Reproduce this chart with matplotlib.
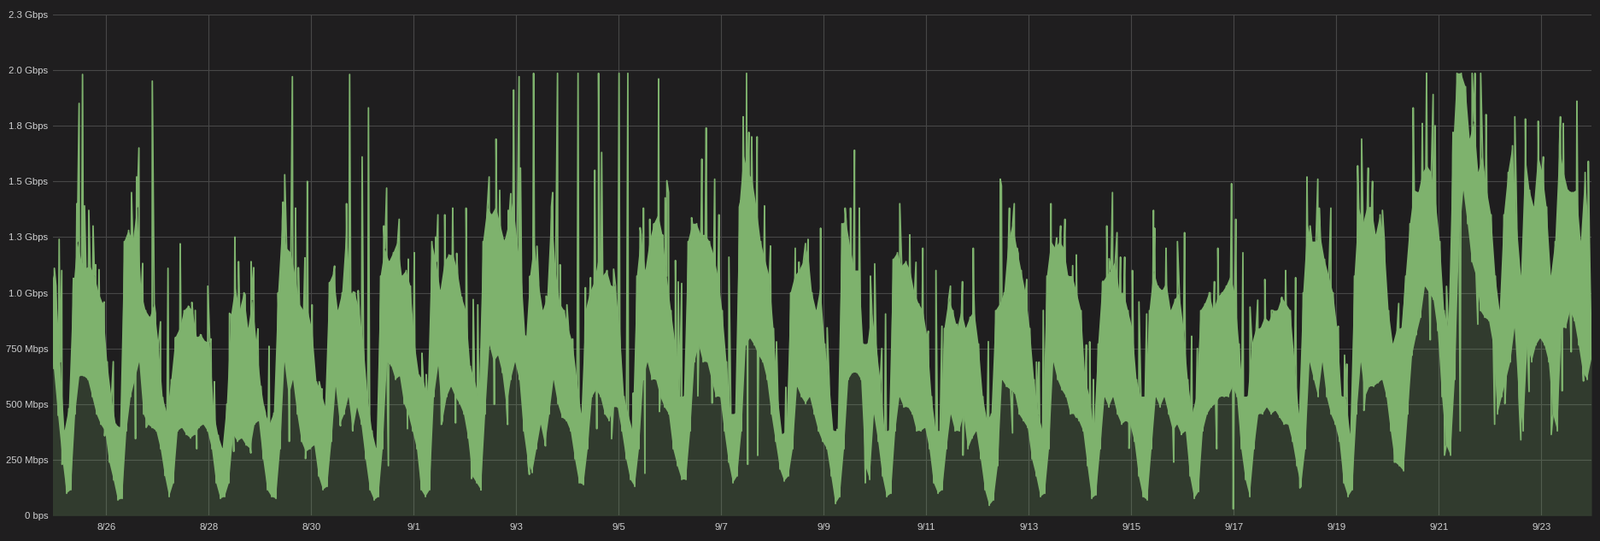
import numpy as np
import matplotlib.pyplot as plt

# ---- data ----
# time in days from 8/25 00:00; top / bottom of the traffic band in Mbps
# per 2-hour bin. First bin starts 8/24 22:00, then 12 bins per day.
bin_hours = 2
first_bin = -2 / 24

hi = [1100,
      1030, 690, 380, 480, 1000, 1230, 1140, 1110, 1120, 1080, 1000, 950,     # 8/25
      690, 530, 410, 395, 1230, 1280, 1230, 1385, 1000, 920, 890, 950,        # 8/26
      770, 530, 460, 610, 800, 840, 920, 940, 920, 800, 810, 780,             # 8/27
      780, 460, 360, 300, 500, 900, 1030, 920, 1000, 840, 970, 770,           # 8/28
      580, 460, 410, 460, 1000, 1320, 1200, 1180, 1080, 950, 920, 920,        # 8/29
      830, 600, 565, 490, 1045, 1090, 920, 1000, 1290, 1000, 1000, 920,       # 8/30
      770, 530, 380, 300, 1075, 1200, 1140, 1180, 1230, 1075, 1100, 1030,     # 8/31
      770, 630, 610, 530, 1230, 1140, 1010, 1140, 1170, 1170, 1100, 980,      # 9/1
      920, 670, 610, 530, 1230, 1385, 1350, 1385, 1310, 1230, 1310, 1415,     # 9/2
      1230, 1075, 770, 1075, 1230, 1045, 920, 980, 1385, 1100, 950, 920,      # 9/3
      840, 770, 610, 456, 920, 1000, 1045, 1150, 1075, 1100, 1030, 1030,      # 9/4
      840, 534, 456, 380, 1075, 1260, 1100, 1230, 1310, 1350, 1260, 1075,     # 9/5
      920, 770, 534, 534, 1230, 1310, 1310, 1260, 1260, 1230, 1170, 1075,     # 9/6
      920, 690, 456, 456, 1385, 1620, 1540, 1510, 1385, 1230, 1150, 1075,     # 9/7
      840, 534, 364, 380, 1000, 1075, 1100, 1140, 1200, 1000, 920, 1030,      # 9/8
      770, 610, 380, 380, 1310, 1320, 1200, 1100, 1100, 770, 770, 920,        # 9/9
      770, 610, 380, 380, 1150, 1180, 1120, 1140, 1100, 1000, 950, 920,       # 9/10
      800, 534, 380, 380, 840, 970, 920, 840, 920, 840, 890, 920,             # 9/11
      770, 534, 426, 456, 920, 950, 1000, 1230, 1310, 1200, 1100, 1000,       # 9/12
      840, 610, 456, 380, 1075, 1230, 1200, 1230, 1200, 1075, 1075, 1000,     # 9/13
      920, 610, 534, 380, 770, 1045, 1075, 1100, 1140, 1000, 1000, 920,       # 9/14
      840, 610, 534, 534, 920, 1100, 1030, 1010, 1045, 920, 970, 1000,        # 9/15
      840, 610, 456, 534, 920, 950, 1000, 920, 980, 1000, 1030, 1075,         # 9/16
      1000, 770, 534, 534, 770, 840, 840, 890, 870, 920, 920, 980,            # 9/17
      950, 920, 690, 456, 1000, 1310, 1230, 1230, 1260, 1150, 1075, 1000,     # 9/18
      840, 534, 534, 364, 1075, 1385, 1310, 1385, 1385, 1260, 1350, 1230,     # 9/19
      920, 770, 840, 840, 1075, 1310, 1460, 1450, 1540, 1570, 1540, 1415,     # 9/20
      1230, 920, 840, 1620, 1985, 1985, 1925, 1690, 1770, 1540, 1620, 1460,   # 9/21
      1350, 1075, 920, 1350, 1540, 1660, 1310, 1075, 1620, 1460, 1385, 1620,  # 9/22
      1540, 1385, 1075, 1230, 1660, 1540, 1460, 1450, 1460, 1230, 1540, 1230]  # 9/23

lo = [660,
      450, 255, 100, 116, 456, 627, 627, 611, 534, 456, 410, 380,     # 8/25
      240, 160, 70, 77, 380, 534, 611, 690, 456, 410, 395, 380,       # 8/26
      300, 180, 85, 147, 380, 395, 364, 348, 364, 395, 410, 380,      # 8/27
      300, 147, 77, 85, 147, 364, 333, 348, 317, 300, 410, 426,       # 8/28
      255, 116, 85, 77, 300, 690, 534, 611, 456, 333, 286, 300,       # 8/29
      317, 178, 116, 131, 333, 580, 410, 456, 534, 380, 487, 410,     # 8/30
      255, 116, 70, 85, 300, 690, 673, 611, 627, 503, 456, 380,       # 8/31
      300, 116, 85, 116, 534, 673, 426, 534, 580, 534, 503, 456,      # 9/1
      348, 178, 147, 116, 456, 766, 690, 720, 642, 487, 611, 690,     # 9/2
      611, 380, 240, 193, 300, 410, 317, 456, 611, 503, 441, 426,     # 9/3
      380, 255, 147, 139, 300, 534, 565, 534, 456, 426, 487, 487,     # 9/4
      380, 255, 162, 131, 300, 611, 690, 611, 611, 534, 487, 456,     # 9/5
      300, 224, 162, 162, 380, 690, 766, 690, 690, 611, 534, 534,     # 9/6
      380, 240, 147, 178, 380, 766, 797, 766, 720, 690, 611, 456,     # 9/7
      333, 209, 155, 178, 300, 580, 534, 503, 534, 456, 380, 333,     # 9/8
      300, 178, 54, 85, 300, 611, 642, 642, 611, 224, 162, 456,       # 9/9
      333, 178, 85, 100, 380, 534, 487, 487, 456, 380, 380, 395,      # 9/10
      300, 147, 100, 116, 300, 456, 380, 380, 456, 300, 348, 380,     # 9/11
      255, 116, 46, 70, 224, 611, 580, 565, 549, 456, 426, 395,       # 9/12
      255, 178, 85, 100, 300, 690, 611, 565, 534, 456, 456, 426,      # 9/13
      380, 224, 77, 93, 300, 534, 487, 534, 456, 410, 426, 410,       # 9/14
      333, 178, 85, 70, 300, 534, 487, 534, 456, 380, 410, 364,       # 9/15
      380, 178, 77, 108, 380, 456, 487, 503, 534, 534, 534, 580,      # 9/16
      534, 300, 162, 85, 300, 456, 456, 487, 456, 472, 441, 410,      # 9/17
      410, 333, 224, 131, 300, 690, 611, 534, 690, 534, 456, 410,     # 9/18
      333, 147, 85, 116, 456, 690, 534, 580, 580, 596, 611, 534,      # 9/19
      380, 240, 224, 201, 456, 720, 812, 890, 1030, 1000, 970, 830,   # 9/20
      534, 317, 271, 611, 1230, 1460, 1310, 1140, 1075, 920, 890, 875,  # 9/21
      766, 456, 534, 611, 690, 843, 534, 380, 766, 690, 766, 797,     # 9/22
      766, 690, 456, 380, 843, 843, 920, 875, 766, 642, 611, 704]     # 9/23

# big single samples sticking out of the band (days, Mbps)
spike_t = [0.083, 0.133, 0.428, 0.472, 0.539, 0.578, 0.661, 0.744,
           1.494, 1.594, 1.639, 1.900, 2.206, 2.444, 2.983,
           3.511, 3.583, 3.828, 4.178, 4.483, 4.633, 4.694, 4.925,
           5.456, 5.689, 5.750, 5.994, 6.117, 6.417, 6.472, 6.633, 6.717,
           7.011, 7.428, 7.472, 7.606, 7.761, 8.022, 8.161, 8.472, 8.606,
           8.678, 8.844, 8.950, 9.056, 9.083, 9.339, 9.711, 9.806,
           10.206, 10.533, 10.606, 10.667, 11.006, 11.178, 11.483, 11.511,
           11.606, 11.778, 11.972, 12.622, 12.706, 12.872, 12.956, 13.150,
           13.428, 13.494, 13.517, 13.539, 13.594, 13.700, 13.711, 13.844,
           13.961, 14.444, 14.694, 14.939,
           15.417, 15.522, 15.600, 15.694, 16.483, 16.678, 16.933, 17.189,
           17.472, 17.706, 17.917, 18.444, 18.467, 18.622, 18.717, 19.433,
           19.622, 19.706, 19.928,
           20.189, 20.522, 20.633, 20.722, 21.022, 21.433, 21.456, 21.678,
           21.900, 22.039, 22.667, 22.689, 22.956, 22.989, 23.039, 23.178,
           24.011, 24.428, 24.639, 24.894,
           25.417, 25.494, 25.622, 25.706, 25.900, 26.500, 26.678, 26.761,
           26.889, 26.928, 27.278, 27.417,
           27.650, 27.706, 27.817, 27.922, 28.483, 28.689, 28.939, 29.039,
           29.372, 29.428, 29.694, 29.917]
spike_v = [1240, 1100, 1400, 1850, 1980, 1390, 1370, 1300,
           1450, 1520, 1650, 1950, 1110, 1220, 1030,
           1250, 1140, 1140, 760, 1530, 1970, 1380, 1500,
           1120, 1400, 1980, 1610, 1830, 1300, 1470, 1180, 1330,
           1180, 1250, 1350, 1350, 1380, 1380, 970, 1520, 1690,
           1460, 1370, 1910, 1970, 1560, 1985, 1450, 1985,
           1985, 1550, 1985, 1630, 1985, 1985, 1380, 190,
           1330, 1960, 1450, 1600, 1740, 1510, 1350, 1160,
           1790, 1985, 230, 1720, 1700, 1700, 270, 1390,
           1210, 1200, 1240, 1290,
           1380, 1380, 1640, 1380, 1400, 1260, 1200, 1100,
           1030, 1050, 1200, 1510, 1480, 1380, 1400, 1400,
           1300, 1330, 1170,
           780, 1300, 1450, 1270, 1100, 1370, 1290, 1200,
           1230, 1270, 300, 1200, 1490, 30, 1330, 1180,
           1100, 1520, 1510, 1380,
           1570, 1690, 1560, 1500, 1370, 1830, 1760, 1985,
           1890, 1750, 1720, 380,
           1985, 1985, 1985, 1800, 1790, 1780, 1770, 1610,
           1790, 1760, 1860, 1590]

# smaller excursions above / below the band (days, Mbps)
minor_t = [-0.011, 0.140, 0.361, 0.794, 0.861, 0.961, 0.970, 1.139, 1.572,
           1.711, 1.750, 1.780, 1.961, 2.061, 2.350, 2.617, 2.672, 2.739,
           2.767, 2.839, 3.044, 3.111, 3.406, 3.489, 3.711, 3.822, 3.878,
           3.961, 4.072, 4.372, 4.450, 4.572, 4.750, 4.878, 4.889,
           5.017, 5.156, 5.211, 5.394, 5.572, 5.806, 5.822, 5.917, 6.506,
           6.878, 6.894, 7.161, 7.244, 7.539, 7.817, 7.839, 8.128, 8.250,
           8.311, 8.406, 8.572, 8.794, 8.833, 8.894, 9.183, 9.256, 9.267,
           9.406, 9.572, 9.583, 9.856,
           9.989, 10.100, 10.350, 10.450, 10.572, 10.756, 10.861, 10.900,
           11.283, 11.417, 11.683, 11.794, 11.850, 11.906, 11.939, 12.106,
           12.161, 12.228, 12.422, 12.544, 12.822, 13.383, 14.078, 14.261,
           14.461, 14.517, 14.644, 14.950,
           15.067, 15.261, 15.811, 15.911, 15.994, 16.039, 16.133, 16.206,
           16.317, 16.800, 17.039, 17.306, 17.600, 17.717, 17.928, 18.072,
           18.211, 18.683, 18.794, 18.961, 19.150, 19.200, 19.283, 19.544,
           19.856, 19.928,
           20.122, 20.261, 20.444, 20.567, 20.789, 20.872, 20.956, 21.150,
           21.300, 21.828, 21.983, 22.178, 22.289, 22.539, 22.622, 23.317,
           23.467, 23.606, 23.733, 23.928, 24.206, 24.289, 24.489, 24.667,
           25.039, 25.161, 25.206, 25.539, 25.844, 26.133, 26.217, 26.317,
           26.833, 27.111, 27.150, 27.761, 28.089, 28.289, 28.600, 28.761,
           29.194, 29.406, 29.583, 29.822]
minor_v = [1110, 230, 1065, 1126, 1104, 959, 358, 691, 345,
           1132, 921, 396, 908, 870, 787, 934, 957, 921,
           300, 812, 793, 601, 908, 288, 991, 281, 1113,
           838, 492, 851, 1407, 333, 1113, 1157, 256,
           946, 601, 569, 1049, 403, 384, 1004, 1010, 224,
           390, 1151, 729, 633, 409, 416, 1177, 166, 946,
           115, 1196, 499, 1241, 409, 1445, 806, 185, 1074,
           1209, 313, 985, 1126,
           946, 793, 1023, 1068, 390, 1074, 345, 1106,
           550, 1292, 1285, 467, 1157, 1426, 1503, 1145,
           1049, 1042, 1337, 537, 505, 1414, 780, 576,
           614, 1138, 1221, 409,
           843, 387, 147, 1075, 1130, 704, 750, 905,
           387, 1137, 828, 850, 859, 271, 998, 433,
           781, 371, 1176, 1060, 689, 689, 921, 1246,
           1122, 441,
           766, 611, 1052, 1153, 1160, 1160, 302, 959,
           905, 240, 689, 805, 750, 1000, 1050, 936,
           967, 1060, 921, 970, 1068, 124, 1300, 1380,
           850, 720, 680, 472, 611, 240, 952, 905,
           789, 271, 1029, 859, 410, 503, 340, 557,
           364, 560, 735, 604]

y_ticks = [0, 250, 500, 750, 1000, 1250, 1500, 1750, 2000, 2250]
y_labels = ["0 bps", "250 Mbps", "500 Mbps", "750 Mbps", "1.0 Gbps",
            "1.3 Gbps", "1.5 Gbps", "1.8 Gbps", "2.0 Gbps", "2.3 Gbps"]
x_ticks = [1, 3, 5, 7, 9, 11, 13, 15, 17, 19, 21, 23, 25, 27, 29]
x_labels = ["8/26", "8/28", "8/30", "9/1", "9/3", "9/5", "9/7", "9/9",
            "9/11", "9/13", "9/15", "9/17", "9/19", "9/21", "9/23"]

# ---- style ----
bg = "#1f1e1f"
green = "#7eb26d"
txt = "#cfd0d1"
plt.rcParams["font.family"] = ["Liberation Sans", "DejaVu Sans"]

# jagged line: top and bottom samples alternate each hour, spikes slot in
hi = np.array(hi, dtype=float)
lo = np.array(lo, dtype=float)
t0 = first_bin + np.arange(len(hi)) * bin_hours / 24
t_hi = t0 + 0.5 / 24
t_lo = t0 + 1.5 / 24
t = np.concatenate([t_hi, t_lo, spike_t, minor_t])
v = np.concatenate([hi, lo, spike_v, minor_v])
order = np.argsort(t)
t, v = t[order], v[order]

fig = plt.figure(figsize=(18.74, 6.33), dpi=100, facecolor=bg)
ax = fig.add_axes([62 / 1874, 1 - 603.3 / 633, 1800.7 / 1874, 586.6 / 633])
ax.set_facecolor(bg)

ax.fill_between(t, 0, v, color=green, alpha=0.2, lw=0, zorder=2)
ax.fill(np.r_[t_hi, t_lo[::-1]], np.r_[hi, lo[::-1]], color=green, lw=0, zorder=3)
ax.plot(t, v, color=green, lw=1.3, zorder=4)

ax.set_xlim(-0.038, 29.973)
ax.set_ylim(0, 2250)
ax.set_yticks(y_ticks)
ax.set_yticklabels(y_labels)
ax.set_xticks(x_ticks)
ax.set_xticklabels(x_labels)
ax.tick_params(length=0, colors=txt, labelsize=8.2)
ax.tick_params(axis="y", pad=4)
ax.tick_params(axis="x", pad=6)
ax.grid(True, color="#474747", lw=0.8, zorder=0)
ax.set_axisbelow(True)
for s in ax.spines.values():
    s.set_visible(False)

fig.savefig("out.png", dpi=100, facecolor=bg)
